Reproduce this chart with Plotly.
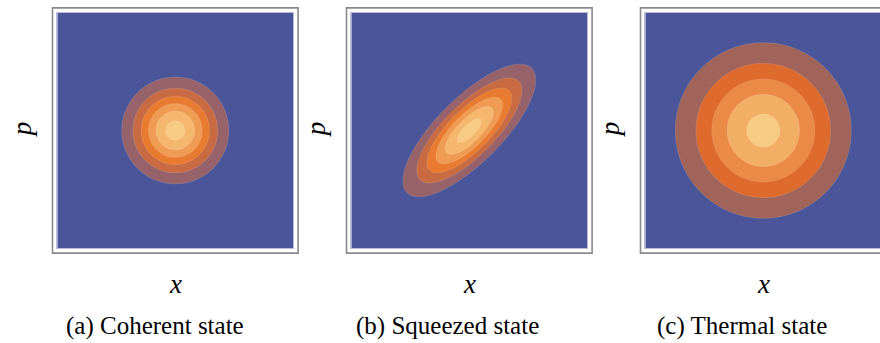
import numpy as np
import plotly.graph_objects as go

# Phase-space grid (x, p) for the Wigner functions
grid_lo, grid_hi, grid_n = -3.0, 3.0, 361

# State parameters
squeeze_r = 0.5          # squeezing parameter of the squeezed vacuum
squeeze_angle_deg = 45   # orientation of the long axis
thermal_nbar = 1         # mean photon number of the thermal state

# Contour levels (start, end, step) per panel
coherent_levels = (0.05, 0.30, 0.05)
squeezed_levels = (0.05, 0.30, 0.05)
thermal_levels = (0.02, 0.10, 0.02)

# Band colours, lowest band first
coherent_colors = ["#4A5699", "#976269", "#C86B42", "#E97B30", "#EF9B53", "#F5B66E", "#F8CB84"]
squeezed_colors = ["#4A5699", "#976269", "#C86B42", "#E97B30", "#EF9B53", "#F5B66E", "#F8CB84"]
thermal_colors = ["#4A5699", "#A1645A", "#DE6A2E", "#EB8A46", "#F3AE66", "#F8CB83"]

captions = ["(a) Coherent state", "(b) Squeezed state", "(c) Thermal state"]
x_title, p_title = "x", "p"

W, H = 880, 343
SERIF = "Liberation Serif, Times New Roman, DejaVu Serif, serif"

xs = np.linspace(grid_lo, grid_hi, grid_n)
X, P = np.meshgrid(xs, xs)


def coherent(X, P):
    return np.exp(-(X ** 2 + P ** 2)) / np.pi


def squeezed(X, P, r, ang_deg):
    a = np.deg2rad(ang_deg)
    u = X * np.cos(a) + P * np.sin(a)
    v = -X * np.sin(a) + P * np.cos(a)
    return np.exp(-(u ** 2 * np.exp(-2 * r) + v ** 2 * np.exp(2 * r))) / np.pi


def thermal(X, P, n):
    s = 2 * n + 1
    return np.exp(-(X ** 2 + P ** 2) / s) / (np.pi * s)


panels = [
    (coherent(X, P), coherent_levels, coherent_colors),
    (squeezed(X, P, squeeze_r, squeeze_angle_deg), squeezed_levels, squeezed_colors),
    (thermal(X, P, thermal_nbar), thermal_levels, thermal_colors),
]

# pixel geometry of each plot area (left edge), shared width/top/bottom
px_left = [57.3, 351.3, 645.3]
px_width = 236.0
px_top, px_bottom = 12.7, 248.3
frame_pad = 4.8

fig = go.Figure()
layout = dict(
    width=W, height=H, margin=dict(l=0, r=0, t=0, b=0),
    paper_bgcolor="white", plot_bgcolor="white", showlegend=False,
    shapes=[], annotations=[],
)

for i, (Z, (c0, c1, cs), cols) in enumerate(panels):
    nb = len(cols) - 1
    cscale = [[j / nb, c] for j, c in enumerate(cols)]
    xa = "x" if i == 0 else f"x{i + 1}"
    ya = "y" if i == 0 else f"y{i + 1}"
    fig.add_trace(go.Contour(
        x=xs, y=xs, z=Z,
        contours=dict(start=c0, end=c1, size=cs, coloring="fill"),
        colorscale=cscale, showscale=False,
        line=dict(color="rgba(255,255,255,0.28)", width=0.5),
        xaxis=xa, yaxis=ya, hoverinfo="skip",
    ))

    left = px_left[i]
    right = min(left + px_width, W)
    unit = px_width / (grid_hi - grid_lo)
    x_hi = grid_lo + (right - left) / unit
    dom_x = [left / W, right / W]
    dom_y = [1 - px_bottom / H, 1 - px_top / H]
    axis_common = dict(showgrid=False, zeroline=False, showticklabels=False, ticks="",
                       showline=True, linecolor="#b9bdd9", linewidth=1, mirror=True)
    layout["xaxis" if i == 0 else f"xaxis{i + 1}"] = dict(
        domain=dom_x, range=[grid_lo, x_hi], anchor=ya, **axis_common)
    layout["yaxis" if i == 0 else f"yaxis{i + 1}"] = dict(
        domain=dom_y, range=[grid_lo, grid_hi], anchor=xa, **axis_common)

    # outer frame
    layout["shapes"].append(dict(
        type="rect", xref="paper", yref="paper",
        x0=(left - frame_pad) / W, x1=(left + px_width + frame_pad) / W,
        y0=1 - (px_bottom + frame_pad) / H, y1=1 - (px_top - frame_pad) / H,
        line=dict(color="#8a8a8a", width=1.6), fillcolor="rgba(0,0,0,0)", layer="below",
    ))

    cx = left + px_width / 2
    # axis titles
    layout["annotations"].append(dict(
        x=cx / W, y=1 - 284 / H, xref="paper", yref="paper", text=f"<i>{x_title}</i>",
        showarrow=False, xanchor="center", yanchor="middle",
        font=dict(family=SERIF, size=27, color="black"),
    ))
    layout["annotations"].append(dict(
        x=(left - 35) / W, y=1 - 129 / H, xref="paper", yref="paper", text=f"<i>{p_title}</i>",
        showarrow=False, xanchor="center", yanchor="middle", textangle=-90,
        font=dict(family=SERIF, size=27, color="black"),
    ))

caption_cx = [155, 448, 742]
for cx, txt in zip(caption_cx, captions):
    layout["annotations"].append(dict(
        x=cx / W, y=1 - 326 / H, xref="paper", yref="paper", text=txt,
        showarrow=False, xanchor="center", yanchor="middle",
        font=dict(family=SERIF, size=25, color="black"),
    ))

fig.update_layout(**layout)
fig.write_html("out.html")
